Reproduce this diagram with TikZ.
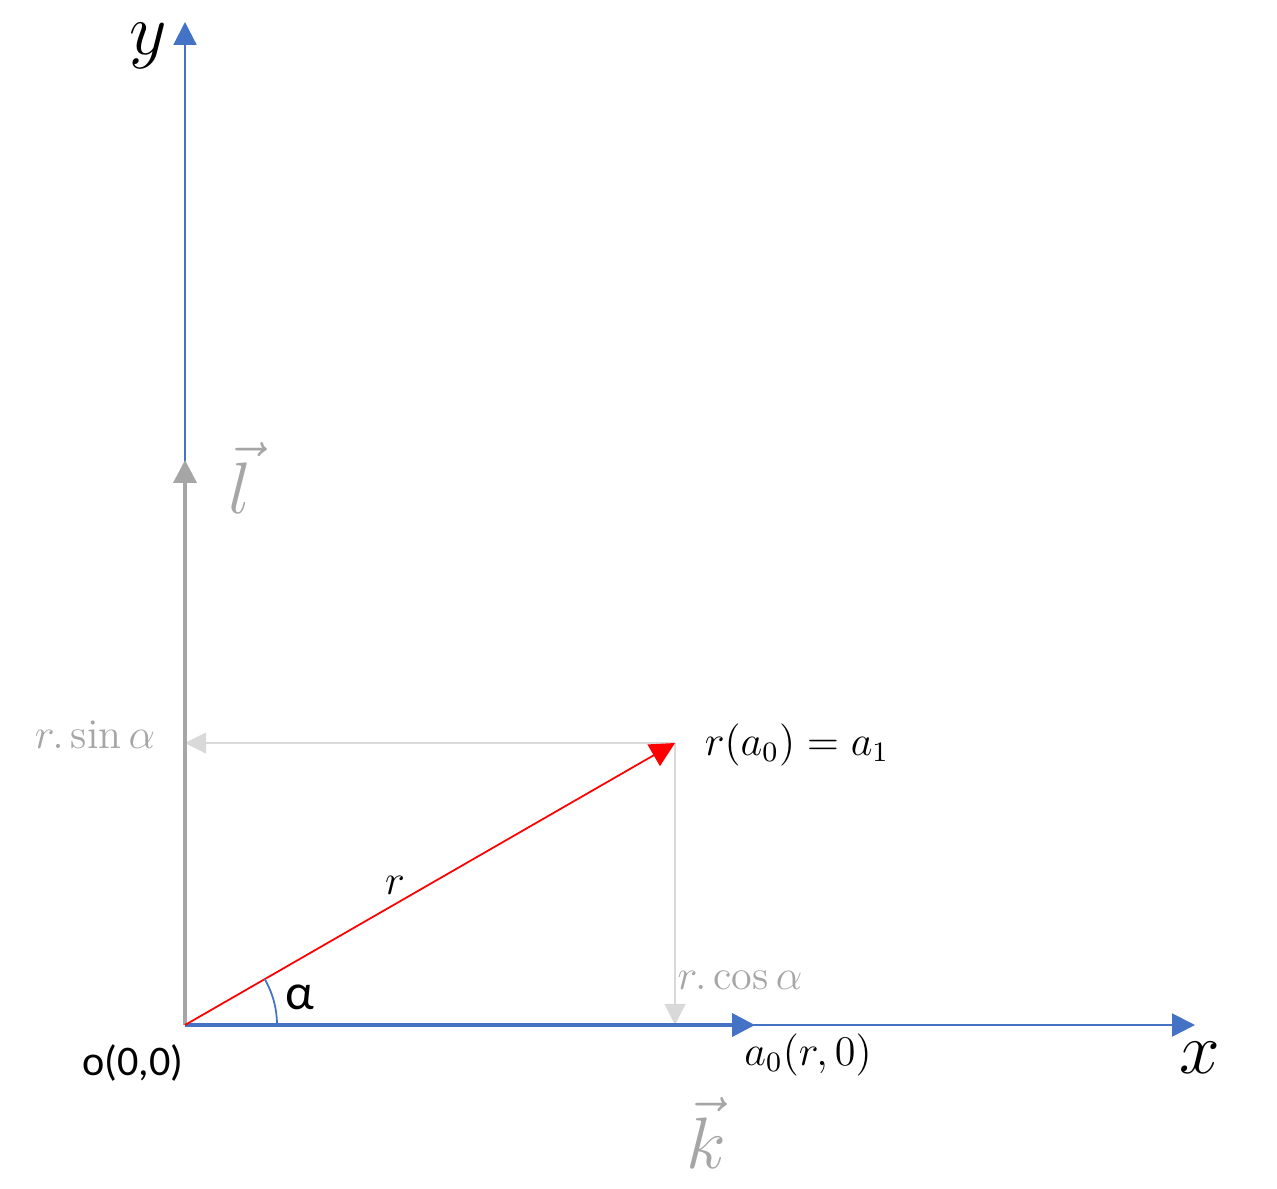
\documentclass[tikz,border=0pt]{standalone}
\usepackage{amsmath,amssymb}
\usepackage{fontspec}
\newfontfamily\calibri{Carlito}
\usetikzlibrary{arrows.meta, angles, quotes, calc}
\definecolor{axisblue}{HTML}{4472C4}
\definecolor{vecgray}{HTML}{A6A6A6}
\definecolor{projgray}{HTML}{D9D9D9}
\tikzset{
    axis/.style={axisblue, line width=0.6pt, -{Triangle[width=6.5pt,length=6.5pt]}},
    unitvec/.style={line width=1.1pt, -{Triangle[width=6.5pt,length=6.5pt]}},
    proj/.style={projgray, line width=0.3pt, -{Triangle[width=6pt,length=6pt]}},
    graylbl/.style={text=vecgray}
}

\begin{document}
\begin{tikzpicture}[x=0.01cm, y=-0.01cm]
    \useasboundingbox (0,0) rectangle (1277,1188);

    \coordinate (O) at (185,1025);
    \coordinate (Ytip) at (185,22);
    \coordinate (Xtip) at (1195,1025);
    \coordinate (Ltip) at (185,460);
    \coordinate (A0) at (755,1025);
    \coordinate (A1) at (675,743);
    \coordinate (Psin) at (185,743);
    \coordinate (Pcos) at (675,1025);

    \draw[axis] (O)--(Ytip);
    \draw[axis] (O)--(Xtip);
    \draw[proj] (A1)--(Psin);
    \draw[proj] (A1)--(Pcos);
    \draw[unitvec, vecgray] (O)--(Ltip);
    \draw[unitvec, axisblue] (O)--(A0);
    \draw[red, line width=0.5pt, -{Triangle[width=7pt,length=7pt]}] (O)--(A1);
    \draw[axisblue, line width=0.5pt] ($(O)+(92,0)$) arc[start angle=0, end angle=-29.9, radius=92];

    \node[inner sep=0pt] (ylbl) at (148,46) {\huge $y$};
    \node (xlbl) at (1200,1058) {\huge $x$};
    \node[graylbl] (llbl) at (240,478) {\huge $\vec{l}$};
    \node[graylbl] (klbl) at (706,1133) {\huge $\vec{k}$};
    \node[graylbl] (sinlbl) at (95,735) {\large $r.\sin\alpha$};
    \node[graylbl] (coslbl) at (740,980) {\large $r.\cos\alpha$};
    \node (a1lbl) at (797,745) {\large $r(a_0)=a_1$};
    \node (rlbl) at (395,885) {\large $r$};
    \node (alpha) at (300,997) {\Large\calibri α};
    \node (olbl) at (133,1063) {\large\calibri o(0,0)};
    \node (a0lbl) at (808,1055) {\large $a_0(r,0)$};
\end{tikzpicture}
\end{document}
